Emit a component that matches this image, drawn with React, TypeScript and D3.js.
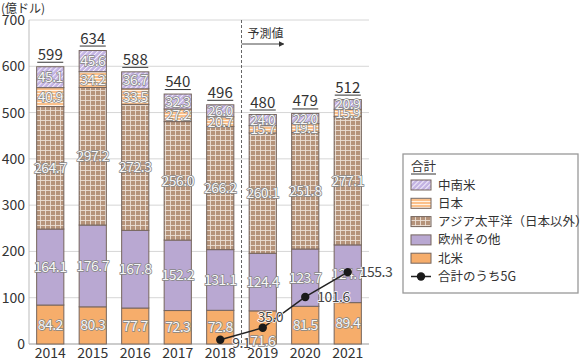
import * as d3 from "d3";

const years = ["2014", "2015", "2016", "2017", "2018", "2019", "2020", "2021"];
const northAmerica = [84.2, 80.3, 77.7, 72.3, 72.8, 71.6, 81.5, 89.4];
const europeOther = [164.1, 176.7, 167.8, 152.2, 131.1, 124.4, 123.7, 124.7];
const asiaPacific = [264.7, 297.2, 272.3, 256.0, 266.2, 260.1, 251.8, 277.1];
const japan = [40.9, 34.2, 33.5, 27.2, 20.7, 15.7, 19.1, 15.9];
const latinAmerica = [45.1, 45.6, 36.7, 32.3, 26.0, 24.0, 22.0, 20.9];
const totals = [599, 634, 588, 540, 496, 480, 479, 512];
const fiveGYears = ["2018", "2019", "2020", "2021"];
const fiveG = [9.1, 35.0, 101.6, 155.3];
const yTicks = [0, 100, 200, 300, 400, 500, 600, 700];

const seriesKeys = ["na", "eu", "ap", "jp", "la"];
const seriesNames: Record<string, string> = {
  na: "北米",
  eu: "欧州その他",
  ap: "アジア太平洋（日本以外）",
  jp: "日本",
  la: "中南米",
};
const fills: Record<string, string> = {
  na: "#f6ad6b",
  eu: "#b9a8d2",
  ap: "url(#pat-ap)",
  jp: "url(#pat-jp)",
  la: "url(#pat-la)",
};

const FONT = "'Noto Sans CJK JP', 'Noto Sans', sans-serif";

export default function App() {
  const width = 580;
  const height = 360;
  const margin = { top: 20, right: 211, bottom: 16, left: 29 };

  const rows = years.map((year, i) => ({
    year,
    na: northAmerica[i],
    eu: europeOther[i],
    ap: asiaPacific[i],
    jp: japan[i],
    la: latinAmerica[i],
  }));
  const stacked = d3.stack<any>().keys(seriesKeys)(rows);

  const x = d3
    .scaleBand()
    .domain(years)
    .range([margin.left, width - margin.right])
    .paddingInner(0.36)
    .paddingOuter(0.18);
  const y = d3
    .scaleLinear()
    .domain([0, 700])
    .range([height - margin.bottom, margin.top]);

  const cx = (yr: string) => (x(yr) as number) + x.bandwidth() / 2;
  const step = x.step();
  const divider = (x("2018") as number) + x.bandwidth() + (step - x.bandwidth()) / 2;

  const line = d3
    .line<number>()
    .x((_, i) => cx(fiveGYears[i]))
    .y((d) => y(d));

  // label placement for the 5G series
  const fiveGLabel = (i: number) => {
    if (i === 0) return { dx: 12, dy: 8 };
    if (i === 1) return { dx: -5, dy: -6 };
    return { dx: 12, dy: 5 };
  };

  const legendItems = ["la", "jp", "ap", "eu", "na"];
  const lx = 403;
  const ly = 154;

  return (
    <svg
      width={width}
      height={height}
      style={{ position: "absolute", left: 0, top: 0, fontFamily: FONT }}
    >
      <defs>
        <pattern id="pat-ap" width="5" height="5" patternUnits="userSpaceOnUse">
          <rect width="5" height="5" fill="#b5937a" />
          <line x1="0.5" y1="0" x2="0.5" y2="5" stroke="#ece0d6" strokeWidth="0.9" />
          <line x1="0" y1="0.5" x2="5" y2="0.5" stroke="#ece0d6" strokeWidth="0.9" />
        </pattern>
        <pattern id="pat-jp" width="4" height="3" patternUnits="userSpaceOnUse">
          <rect width="4" height="3" fill="#fbc08a" />
          <line x1="0" y1="0.5" x2="4" y2="0.5" stroke="#fff3e6" strokeWidth="1" />
        </pattern>
        <pattern
          id="pat-la"
          width="3.5"
          height="3.5"
          patternUnits="userSpaceOnUse"
          patternTransform="rotate(45)"
        >
          <rect width="3.5" height="3.5" fill="#c3b3e3" />
          <line x1="0.5" y1="0" x2="0.5" y2="3.5" stroke="#f4f0fb" strokeWidth="1" />
        </pattern>
        <marker id="arrow" markerWidth="6" markerHeight="6" refX="5" refY="3" orient="auto">
          <path d="M0,0 L6,3 L0,6 Z" fill="#333" />
        </marker>
      </defs>

      {/* unit */}
      <text x={1} y={13} fontSize={12} fill="#333">
        (億ドル)
      </text>

      {/* grid */}
      {yTicks.map((t) => (
        <g key={t}>
          <line
            x1={margin.left}
            x2={width - margin.right}
            y1={y(t)}
            y2={y(t)}
            stroke={t === 0 ? "#999" : "#d6d6d6"}
            strokeWidth={t === 0 ? 1.2 : 1}
          />
          <text x={25} y={y(t) + 5} textAnchor="end" fontSize={14} fill="#333">
            {t}
          </text>
        </g>
      ))}
      <line
        x1={margin.left}
        x2={margin.left}
        y1={y(700)}
        y2={y(0)}
        stroke="#bbb"
        strokeWidth={1}
      />

      {/* forecast divider */}
      <line
        x1={divider}
        x2={divider}
        y1={y(700)}
        y2={y(0)}
        stroke="#555"
        strokeDasharray="3,2"
        strokeWidth={0.9}
      />
      <text x={divider + 6} y={38} fontSize={12} fill="#333">
        予測値
      </text>
      <line
        x1={divider}
        x2={divider + 42}
        y1={44}
        y2={44}
        stroke="#333"
        strokeWidth={0.9}
        markerEnd="url(#arrow)"
      />

      {/* bars */}
      {stacked.map((s) => (
        <g key={s.key}>
          {s.map((d, i) => (
            <rect
              key={years[i]}
              x={x(years[i])}
              y={y(d[1])}
              width={x.bandwidth()}
              height={y(d[0]) - y(d[1])}
              fill={fills[s.key]}
              stroke="#75655d"
              strokeWidth={1}
            />
          ))}
        </g>
      ))}

      {/* segment labels */}
      {stacked.map((s) => (
        <g key={s.key + "-lbl"}>
          {s.map((d, i) => {
            let yy = y((d[0] + d[1]) / 2) + 5;
            if (s.key === "na" && years[i] === "2019") yy += 14;
            return (
              <text
                key={years[i]}
                x={cx(years[i])}
                y={yy}
                textAnchor="middle"
                fontSize={14}
                fill="#f7f7f7"
                stroke="#858585"
                strokeWidth={1.4}
                paintOrder="stroke"
                letterSpacing={-0.5}
              >
                {(d[1] - d[0]).toFixed(1)}
              </text>
            );
          })}
        </g>
      ))}

      {/* totals */}
      {years.map((yr, i) => {
        const top = y(stacked[stacked.length - 1][i][1]);
        return (
          <g key={yr + "-tot"}>
            <text x={cx(yr)} y={top - 7} textAnchor="middle" fontSize={15} fill="#333">
              {totals[i]}
            </text>
            <line
              x1={cx(yr) - 13}
              x2={cx(yr) + 13}
              y1={top - 4.5}
              y2={top - 4.5}
              stroke="#333"
              strokeWidth={1}
            />
          </g>
        );
      })}

      {/* 5G line */}
      <path d={line(fiveG) || ""} fill="none" stroke="#222" strokeWidth={1.5} />
      {fiveG.map((v, i) => {
        const o = fiveGLabel(i);
        return (
          <g key={fiveGYears[i]}>
            <circle cx={cx(fiveGYears[i])} cy={y(v)} r={4.2} fill="#1a1a1a" />
            <text
              x={cx(fiveGYears[i]) + o.dx}
              y={y(v) + o.dy}
              fontSize={14}
              fill="#444"
              stroke="#fff"
              strokeWidth={1.5}
              paintOrder="stroke"
              letterSpacing={-0.5}
            >
              {v.toFixed(1)}
            </text>
          </g>
        );
      })}

      {/* x labels */}
      {years.map((yr) => (
        <text key={yr + "-x"} x={cx(yr)} y={358} textAnchor="middle" fontSize={14} fill="#333">
          {yr}
        </text>
      ))}

      {/* legend */}
      <rect x={lx} y={ly} width={175} height={139} fill="#fff" stroke="#999" strokeWidth={1.3} />
      <text x={lx + 8} y={ly + 17} fontSize={12.5} fill="#333">
        合計
      </text>
      <line x1={lx + 8} x2={lx + 33} y1={ly + 20} y2={ly + 20} stroke="#333" strokeWidth={1} />
      {legendItems.map((k, i) => {
        const ry = ly + 31 + i * 18.3;
        return (
          <g key={k + "-leg"}>
            <rect
              x={lx + 8}
              y={ry - 5}
              width={20}
              height={10}
              fill={fills[k]}
              stroke="#75655d"
              strokeWidth={1}
            />
            <text x={lx + 35} y={ry + 4.5} fontSize={12.5} fill="#333">
              {seriesNames[k]}
            </text>
          </g>
        );
      })}
      <g>
        <line
          x1={lx + 8}
          x2={lx + 28}
          y1={ly + 31 + 5 * 18.3}
          y2={ly + 31 + 5 * 18.3}
          stroke="#222"
          strokeWidth={1.5}
        />
        <circle cx={lx + 18} cy={ly + 31 + 5 * 18.3} r={4.2} fill="#1a1a1a" />
        <text x={lx + 35} y={ly + 31 + 5 * 18.3 + 4.5} fontSize={12.5} fill="#333">
          合計のうち5G
        </text>
      </g>
    </svg>
  );
}
